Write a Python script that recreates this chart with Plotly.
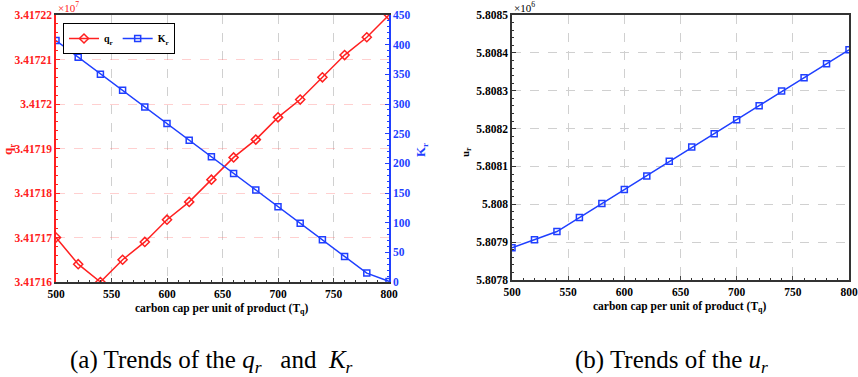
import plotly.graph_objects as go

T_q = [500, 520, 540, 560, 580, 600, 620, 640, 660, 680, 700, 720, 740, 760, 780, 800]
q_r = [3.417170, 3.417164, 3.417160, 3.417165, 3.417169, 3.417174, 3.417178, 3.417183,
       3.417188, 3.417192, 3.417197, 3.417201, 3.417206, 3.417211, 3.417215, 3.417220]  # x 1e7
K_r = [407, 379, 350, 323, 295, 267, 239, 211, 183, 155, 127, 99, 71, 43, 15, 1]
u_r = [5.807885, 5.807906, 5.807928, 5.807965, 5.808002, 5.808039, 5.808075, 5.808114,
       5.808151, 5.808186, 5.808223, 5.808260, 5.808299, 5.808334, 5.808371, 5.808408]  # x 1e6

x_ticks = [500, 550, 600, 650, 700, 750, 800]
q_ticks = [3.41716, 3.41717, 3.41718, 3.41719, 3.41720, 3.41721, 3.41722]
q_text = ["3.41716", "3.41717", "3.41718", "3.41719", "3.4172", "3.41721", "3.41722"]
K_ticks = [0, 50, 100, 150, 200, 250, 300, 350, 400, 450]
u_ticks = [5.8078, 5.8079, 5.8080, 5.8081, 5.8082, 5.8083, 5.8084, 5.8085]
u_text = ["5.8078", "5.8079", "5.808", "5.8081", "5.8082", "5.8083", "5.8084", "5.8085"]
x_title = "carbon cap per unit of product (T<sub>q</sub>)"

FONT = "Liberation Serif"
RED = "#ff2020"
BLUE = "#1f3fff"
W, H = 858, 377


def px(X):
    return X / W


def py(Y):
    return 1 - Y / H


def b(labels):
    return ["<b>%s</b>" % s for s in labels]


fig = go.Figure()
fig.add_trace(go.Scatter(x=T_q, y=q_r, mode="lines+markers", name="<b>q<sub>r</sub></b>",
                         line=dict(color=RED, width=1.5),
                         marker=dict(symbol="diamond-open", size=7, color=RED, line=dict(width=1.5)),
                         xaxis="x", yaxis="y"))
fig.add_trace(go.Scatter(x=T_q, y=K_r, mode="lines+markers", name="<b>K<sub>r</sub></b>",
                         line=dict(color=BLUE, width=1.5),
                         marker=dict(symbol="square-open", size=6, color=BLUE, line=dict(width=1.5)),
                         xaxis="x", yaxis="y2"))
fig.add_trace(go.Scatter(x=T_q, y=u_r, mode="lines+markers", name="u<sub>r</sub>",
                         line=dict(color=BLUE, width=1.5),
                         marker=dict(symbol="square-open", size=6, color=BLUE, line=dict(width=1.5)),
                         xaxis="x2", yaxis="y3", showlegend=False))

tickfont = dict(family=FONT, size=11.5, color="black")

xcommon = dict(range=[500, 800], tickvals=x_ticks, ticktext=b([str(v) for v in x_ticks]),
               ticks="inside", ticklen=4, automargin=False,
               showline=True, linecolor="#333", linewidth=1.5, mirror=True,
               showgrid=True, gridcolor="#d0d0d0", griddash="dash", gridwidth=1,
               zeroline=False, tickfont=tickfont,
               minor=dict(ticks="inside", ticklen=2.5, dtick=10, tick0=500, showgrid=False, tickcolor="#333"))

fig.update_layout(
    width=W, height=H,
    margin=dict(l=0, r=0, t=0, b=0, autoexpand=False),
    paper_bgcolor="white", plot_bgcolor="white",
    showlegend=True,
    legend=dict(x=px(63), y=py(23), xanchor="left", yanchor="top", orientation="h",
                bgcolor="white", bordercolor="black", borderwidth=1,
                font=dict(family=FONT, size=10, color="black"),
                itemwidth=30, tracegroupgap=0, itemsizing="trace"),
    xaxis=dict(domain=[px(56), px(389)], anchor="y", **xcommon),
    yaxis=dict(domain=[py(282), py(15)], range=[3.41716, 3.41722], tickvals=q_ticks, ticktext=b(q_text),
               ticks="inside", ticklen=4, tickcolor=RED, showline=True, linecolor=RED, linewidth=1.5,
               showgrid=True, gridcolor="rgba(255,120,120,0.35)", griddash="dash", zeroline=False,
               automargin=False, tickfont=dict(family=FONT, size=11.5, color=RED),
               minor=dict(ticks="inside", ticklen=2.5, dtick=0.000002, tick0=3.41716, showgrid=False, tickcolor=RED)),
    yaxis2=dict(overlaying="y", side="right", anchor="x", range=[0, 450], tickvals=K_ticks,
                ticktext=b([str(v) for v in K_ticks]),
                ticks="inside", ticklen=4, tickcolor=BLUE, showline=True, linecolor=BLUE, linewidth=1.5,
                showgrid=False, zeroline=False, automargin=False,
                tickfont=dict(family=FONT, size=11.5, color=BLUE),
                minor=dict(ticks="inside", ticklen=2.5, dtick=10, tick0=0, showgrid=False, tickcolor=BLUE)),
    xaxis2=dict(domain=[px(512), px(849)], anchor="y3", **xcommon),
    yaxis3=dict(domain=[py(280), py(15)], anchor="x2", range=[5.8078, 5.8085], tickvals=u_ticks,
                ticktext=b(u_text),
                ticks="inside", ticklen=4, tickcolor="#333", showline=True, linecolor="#333", linewidth=1.5,
                mirror=True, showgrid=True, gridcolor="#d0d0d0", griddash="dash", zeroline=False,
                automargin=False, tickfont=tickfont,
                minor=dict(ticks="inside", ticklen=2.5, dtick=0.00002, tick0=5.8078, showgrid=False, tickcolor="#333")),
)

# axis titles and multipliers
fig.add_annotation(x=px(222), y=py(309), xref="paper", yref="paper", xanchor="center", yanchor="middle",
                   text="<b>%s</b>" % x_title, showarrow=False, font=dict(family=FONT, size=11.5, color="black"))
fig.add_annotation(x=px(680), y=py(307), xref="paper", yref="paper", xanchor="center", yanchor="middle",
                   text="<b>%s</b>" % x_title, showarrow=False, font=dict(family=FONT, size=11.5, color="black"))
fig.add_annotation(x=px(8), y=py(150), xref="paper", yref="paper", textangle=-90, xanchor="center",
                   text="<b>q<sub>r</sub></b>", showarrow=False, font=dict(family=FONT, size=13, color=RED))
fig.add_annotation(x=px(421), y=py(150), xref="paper", yref="paper", textangle=-90,
                   text="<b>K<sub>r</sub></b>", showarrow=False, font=dict(family=FONT, size=13, color=BLUE))
fig.add_annotation(x=px(466), y=py(152), xref="paper", yref="paper", textangle=-90,
                   text="<b>u<sub>r</sub></b>", showarrow=False, font=dict(family=FONT, size=11, color="black"))
fig.add_annotation(x=px(57), y=py(15), xref="paper", yref="paper", xanchor="left", yanchor="bottom",
                   text="×10<sup>7</sup>", showarrow=False, borderpad=0,
                   font=dict(family=FONT, size=11, color=RED))
fig.add_annotation(x=px(513), y=py(15), xref="paper", yref="paper", xanchor="left", yanchor="bottom",
                   text="×10<sup>6</sup>", showarrow=False, borderpad=0,
                   font=dict(family=FONT, size=11, color="black"))

# captions
fig.add_annotation(x=px(211), y=py(361), xref="paper", yref="paper", xanchor="center", yanchor="middle",
                   text="(a) Trends of the <i>q<sub>r</sub></i>&nbsp;&nbsp; and &nbsp;<i>K<sub>r</sub></i>",
                   showarrow=False, font=dict(family=FONT, size=25, color="black"))
fig.add_annotation(x=px(671), y=py(361), xref="paper", yref="paper", xanchor="center", yanchor="middle",
                   text="(b) Trends of the <i>u<sub>r</sub></i>", showarrow=False,
                   font=dict(family=FONT, size=25, color="black"))

fig.write_html("out.html", config={"displayModeBar": False},
               post_script="document.body.style.margin='0';")
